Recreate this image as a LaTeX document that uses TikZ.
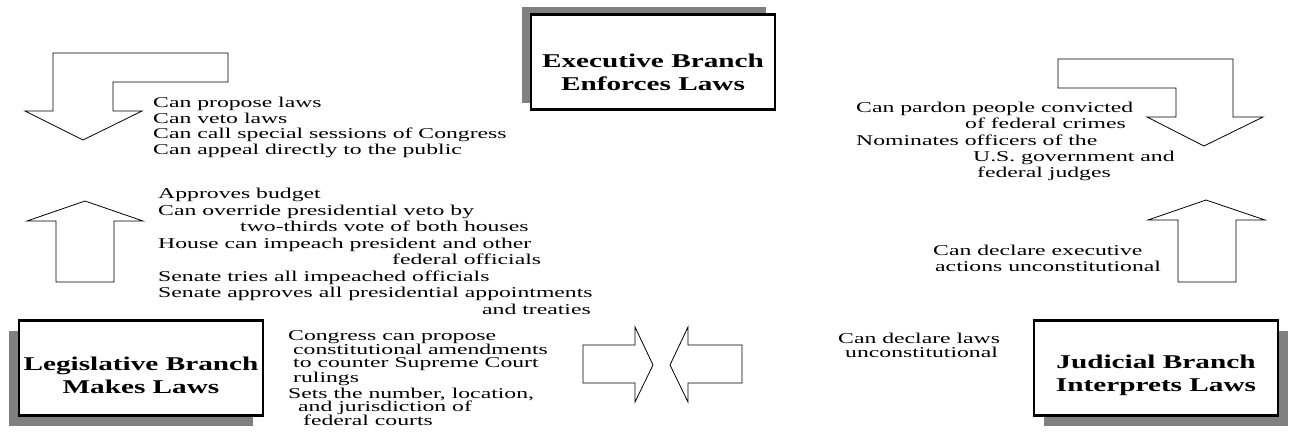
\documentclass[tikz,border=0pt]{standalone}
\usepackage{fontspec}
\usepackage{tikz}
\usetikzlibrary{shadows}
\newfontfamily\oldserif[FakeStretch=1.58]{Liberation Serif}
\newfontfamily\oldbold[FakeStretch=1.5]{Liberation Serif}
\definecolor{shadowgray}{HTML}{808080}
\definecolor{inktext}{HTML}{000000}
\newcommand{\boxstrut}[1]{\rule{0pt}{#1}}
\tikzset{
  branchbox/.style={draw,line width=2.6pt,fill=white,minimum width=244pt,minimum height=95pt,inner sep=0pt,align=center,font=\oldbold\bfseries\fontsize{19.5}{23}\selectfont},
  checktext/.style={anchor=north west,inner sep=0pt,align=left,text=inktext,font=\oldserif\fontsize{15}{15.6}\selectfont},
  blockarrow/.style={draw,line width=0.8pt,fill=white,line join=miter}
}

\begin{document}
\begin{tikzpicture}[x=1pt,y=-1pt]
  \useasboundingbox (0,0) rectangle (1291,436);

  % branches
  \node[branchbox,drop shadow={shadow xshift=-9pt,shadow yshift=7pt,fill=shadowgray,opacity=1}] (exec) at (653,62) {\boxstrut{34pt}Executive Branch\\Enforces Laws};
  \node[branchbox,drop shadow={shadow xshift=-10pt,shadow yshift=-10pt,fill=shadowgray,opacity=1}] (leg) at (141,368) {\boxstrut{28pt}Legislative Branch\\Makes Laws};
  \node[branchbox,drop shadow={shadow xshift=10pt,shadow yshift=-10pt,fill=shadowgray,opacity=1}] (jud) at (1156,368) {\boxstrut{28pt}Judicial Branch\\Interprets Laws};

  % block arrows
  \draw[blockarrow] (53,53) -- (228,53) -- (228,82) -- (113,82) -- (113,111) -- (142,111) -- (83,140) -- (25,111) -- (53,111) -- cycle;
  \draw[blockarrow] (56,282) -- (56,221) -- (27,221) -- (85,201) -- (143,221) -- (114,221) -- (114,282) -- cycle;
  \draw[blockarrow] (1058,59) -- (1233,59) -- (1233,117) -- (1263,117) -- (1204,146) -- (1147,117) -- (1176,117) -- (1176,88) -- (1058,88) -- cycle;
  \draw[blockarrow] (1178,282) -- (1178,220) -- (1148,220) -- (1206,200) -- (1265,220) -- (1236,220) -- (1236,282) -- cycle;
  \draw[blockarrow] (583,345) -- (635,345) -- (635,327) -- (653,365) -- (635,402) -- (635,383) -- (583,383) -- cycle;
  \draw[blockarrow] (742,345) -- (688,345) -- (688,327) -- (670,365) -- (688,402) -- (688,383) -- (742,383) -- cycle;

  % checks
  \node[checktext] (execleg) at (153,97) {Can propose laws\\Can veto laws\\Can call special sessions of Congress\\Can appeal directly to the public};
  \node[checktext,font=\oldserif\fontsize{15}{16.5}\selectfont] (legexec) at (158,188) {Approves budget\\Can override presidential veto by\\\hspace*{82pt}two-thirds vote of both houses\\House can impeach president and other\\\hspace*{234pt}federal officials\\Senate tries all impeached officials\\Senate approves all presidential appointments\\\hspace*{324pt}and treaties};
  \node[checktext,font=\oldserif\fontsize{15}{16.2}\selectfont] (execjud) at (856,102) {Can pardon people convicted\\\hspace*{109pt}of federal crimes\\Nominates officers of the\\\hspace*{117pt}U.S. government and\\\hspace*{121pt}federal judges};
  \node[checktext] (judexec) at (933,245) {Can declare executive\\\hspace*{2pt}actions unconstitutional};
  \node[checktext,font=\oldserif\fontsize{15}{13}\selectfont] (legjud) at (288,330) {Congress can propose\\\hspace*{5pt}constitutional amendments\\\hspace*{5pt}to counter Supreme Court\\\hspace*{5pt}rulings\\[1pt]Sets the number, location,\\\hspace*{10pt}and jurisdiction of\\\hspace*{15pt}federal courts};
  \node[checktext,font=\oldserif\fontsize{15}{14}\selectfont] (judleg) at (838,333) {Can declare laws\\\hspace*{7pt}unconstitutional};
\end{tikzpicture}
\end{document}
